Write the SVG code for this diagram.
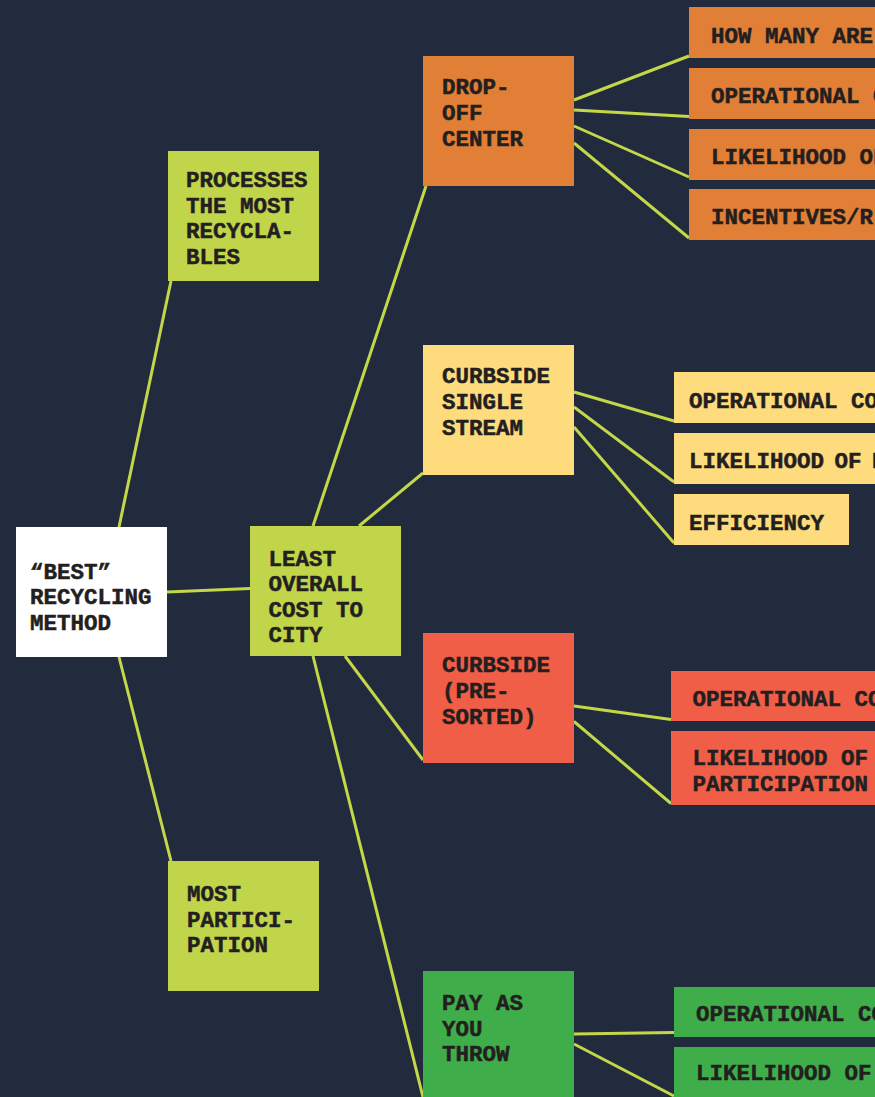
<svg xmlns="http://www.w3.org/2000/svg" width="875" height="1097" viewBox="0 0 875 1097">
<style>
.bg{fill:#222a3d}
.c{stroke:#c3d748;stroke-width:3;fill:none;stroke-linecap:butt}
.lime{fill:#c1d54b}
.white{fill:#ffffff}
.orange{fill:#e07f35}
.yellow{fill:#fedb7c}
.red{fill:#f05e47}
.green{fill:#3fae4a}
text{font-family:"Liberation Mono","DejaVu Sans Mono",monospace;font-weight:bold;font-size:22.5px;fill:#231f20;stroke:#231f20;stroke-width:0.5}
</style>
<rect class="bg" x="0" y="0" width="875" height="1097"/>
<g id="connectors">
<path class="c" d="M119 527 L171 281"/>
<path class="c" d="M167 592 L250 588.5"/>
<path class="c" d="M119 657 L171 861"/>
<path class="c" d="M313 526 L426 186"/>
<path class="c" d="M359 526 L423 473"/>
<path class="c" d="M345 656 L423 760"/>
<path class="c" d="M313 656 L423 1097"/>
<path class="c" d="M574 100 L689 56"/>
<path class="c" d="M574 110 L689 116.5"/>
<path class="c" d="M574 126 L689 177"/>
<path class="c" d="M574 143 L689 238"/>
<path class="c" d="M574 392 L674 421"/>
<path class="c" d="M574 407 L674 482"/>
<path class="c" d="M574 427 L674 543"/>
<path class="c" d="M574 706 L671 719.5"/>
<path class="c" d="M574 721.5 L671 803.5"/>
<path class="c" d="M574 1034 L674 1032.5"/>
<path class="c" d="M574 1044 L674 1096"/>
</g>
<g id="root">
<rect class="white" x="16" y="527" width="151" height="130"/>
<text x="30" y="578.5">“BEST”</text>
<text x="30" y="604">RECYCLING</text>
<text x="30" y="629.5">METHOD</text>
</g>
<g id="processes">
<rect class="lime" x="168" y="151" width="151" height="130"/>
<text x="186" y="187">PROCESSES</text>
<text x="186" y="212.5">THE MOST</text>
<text x="186" y="238">RECYCLA-</text>
<text x="186" y="263.5">BLES</text>
</g>
<g id="least-cost">
<rect class="lime" x="250" y="526" width="151" height="130"/>
<text x="268.5" y="566">LEAST</text>
<text x="268.5" y="591">OVERALL</text>
<text x="268.5" y="617">COST TO</text>
<text x="268.5" y="642">CITY</text>
</g>
<g id="most-participation">
<rect class="lime" x="168" y="861" width="151" height="130"/>
<text x="187" y="901">MOST</text>
<text x="187" y="926.5">PARTICI-</text>
<text x="187" y="952">PATION</text>
</g>
<g id="drop-off">
<rect class="orange" x="423" y="56" width="151" height="130"/>
<text x="442" y="94">DROP-</text>
<text x="442" y="120">OFF</text>
<text x="442" y="146">CENTER</text>
</g>
<g id="curbside-single">
<rect class="yellow" x="423" y="345" width="151" height="130"/>
<text x="442" y="383">CURBSIDE</text>
<text x="442" y="409">SINGLE</text>
<text x="442" y="435">STREAM</text>
</g>
<g id="curbside-presorted">
<rect class="red" x="423" y="633" width="151" height="130"/>
<text x="442" y="672">CURBSIDE</text>
<text x="442" y="698">(PRE-</text>
<text x="442" y="724">SORTED)</text>
</g>
<g id="pay-as-you-throw">
<rect class="green" x="423" y="971" width="151" height="130"/>
<text x="442" y="1010">PAY AS</text>
<text x="442" y="1035.5">YOU</text>
<text x="442" y="1061">THROW</text>
</g>
<g id="d1"><rect class="orange" x="689" y="7" width="190" height="51"/><text x="711" y="42.5">HOW MANY ARE</text></g>
<g id="d2"><rect class="orange" x="689" y="68" width="190" height="51"/><text x="711" y="102.5">OPERATIONAL C</text></g>
<g id="d3"><rect class="orange" x="689" y="129" width="190" height="51"/><text x="711" y="163.5">LIKELIHOOD OF</text></g>
<g id="d4"><rect class="orange" x="689" y="189" width="190" height="51"/><text x="711" y="224">INCENTIVES/R</text></g>
<g id="s1"><rect class="yellow" x="674" y="372" width="205" height="51"/><text x="689" y="407.5">OPERATIONAL CO</text></g>
<g id="s2"><rect class="yellow" x="674" y="433" width="205" height="51"/><text x="689" y="467.5" word-spacing="-3">LIKELIHOOD OF P</text></g>
<g id="s3"><rect class="yellow" x="674" y="494" width="175" height="51"/><text x="689" y="529.5">EFFICIENCY</text></g>
<g id="p1"><rect class="red" x="671" y="671" width="205" height="50"/><text x="692.5" y="705.5">OPERATIONAL CO</text></g>
<g id="p2"><rect class="red" x="671" y="731" width="205" height="74"/><text x="692.5" y="765">LIKELIHOOD OF</text><text x="692.5" y="790.5">PARTICIPATION</text></g>
<g id="g1"><rect class="green" x="674" y="987" width="205" height="50"/><text x="696" y="1021">OPERATIONAL CO</text></g>
<g id="g2"><rect class="green" x="674" y="1047" width="205" height="55"/><text x="696" y="1080">LIKELIHOOD OF</text></g>
</svg>
